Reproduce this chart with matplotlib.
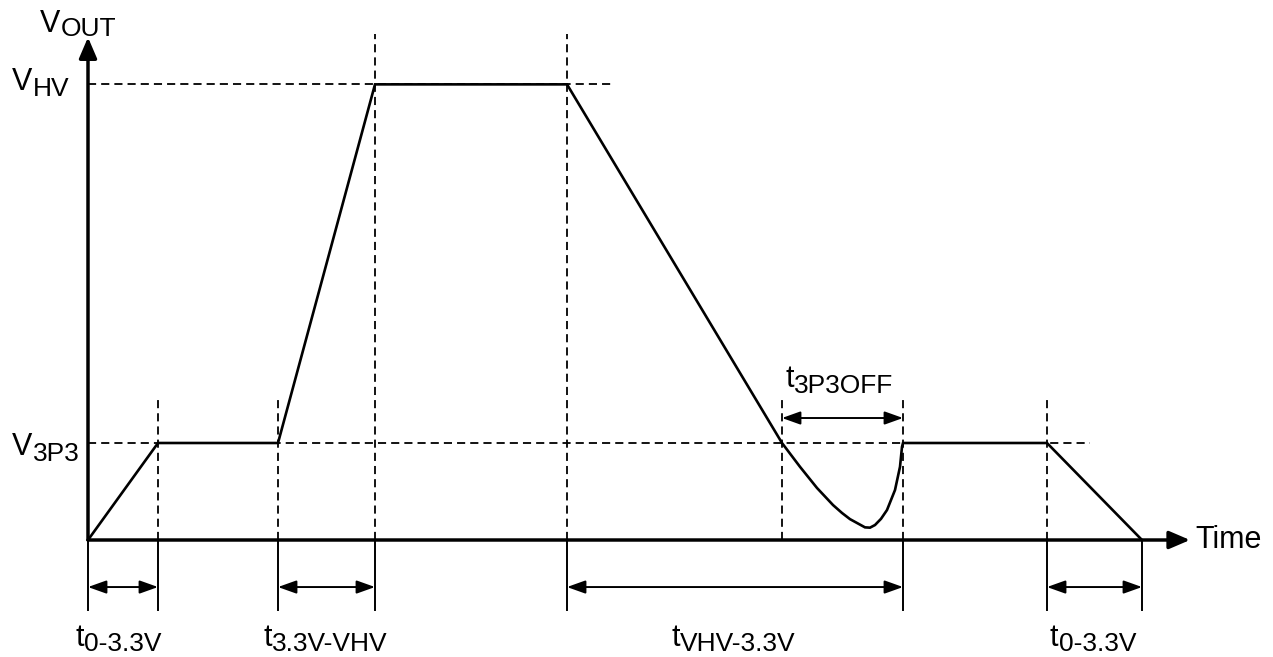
import matplotlib
matplotlib.use("Agg")
import matplotlib.pyplot as plt

plt.rcParams['font.family'] = ['Liberation Sans', 'DejaVu Sans']

# waveform (time in arbitrary units, volts)
t_wave = [0, 7.0, 19.0, 28.7, 47.9, 69.4, 71.2, 72.9, 74.5, 75.4, 76.2, 77.7,
          78.2, 78.7, 79.3, 79.9, 80.7, 81.2, 81.4, 81.5, 95.9, 105.4]
v_wave = [0, 3.3, 3.3, 15.5, 15.5, 3.3, 2.49, 1.77, 1.19, 0.92, 0.71, 0.43,
          0.42, 0.51, 0.72, 1.02, 1.70, 2.49, 3.17, 3.3, 3.3, 0]

V3P3 = 3.3
VHV = 15.5
t_end = 110.2     # time axis arrow tip
v_top = 17.1      # voltage axis arrow tip

# vertical guide lines: (time, top)
guides_t = [7.0, 19.0, 28.7, 47.9, 69.4, 81.5, 95.9]
guides_top = [4.9, 4.9, 17.2, 17.2, 4.9, 4.9, 4.9]
# level guides: (level, end time)
levels = [VHV, V3P3]
levels_end = [52.4, 100.2]

# timing marks below the axis
tick_t = [0, 7.0, 19.0, 28.7, 47.9, 81.5, 95.9, 105.4]
spans = [(0, 7.0), (19.0, 28.7), (47.9, 81.5), (95.9, 105.4)]
span_labels = [('t', '0-3.3V'), ('t', '3.3V-VHV'), ('t', 'VHV-3.3V'), ('t', '0-3.3V')]
span_label_x = [-1.3, 17.5, 58.3, 96.2]
off_span = (69.4, 81.5)

fig = plt.figure(figsize=(12.73, 6.57), dpi=100)
ax = fig.add_axes([0, 0, 1, 1])
ax.set_xlim(-8.8, 118.5)
ax.set_ylim(-3.98, 18.37)
ax.axis('off')

dash = (0, (4.5, 2.8))
for x, top in zip(guides_t, guides_top):
    ax.plot([x, x], [0, top], color='black', lw=1.3, ls=dash)
for lv, end in zip(levels, levels_end):
    ax.plot([0, end], [lv, lv], color='black', lw=1.3, ls=dash)

ax.plot(t_wave, v_wave, color='black', lw=1.9, solid_joinstyle='miter')

# axes with arrows
ax.annotate('', xy=(t_end, 0), xytext=(0, 0),
            arrowprops=dict(arrowstyle='-|>,head_length=0.7,head_width=0.3',
                            color='black', lw=2.5, mutation_scale=18,
                            shrinkA=0, shrinkB=0))
ax.annotate('', xy=(0, v_top), xytext=(0, 0),
            arrowprops=dict(arrowstyle='-|>,head_length=0.7,head_width=0.3',
                            color='black', lw=2.5, mutation_scale=18,
                            shrinkA=0, shrinkB=0))

for x in tick_t:
    ax.plot([x, x], [0, -2.38], color='black', lw=1.4)

arrow_kw = dict(arrowstyle='<|-|>,head_length=0.7,head_width=0.25',
                color='black', lw=1.4, mutation_scale=16, shrinkA=0, shrinkB=0)
for a, b in spans:
    ax.annotate('', xy=(b, -1.6), xytext=(a, -1.6), arrowprops=arrow_kw)
ax.annotate('', xy=(off_span[1], 4.15), xytext=(off_span[0], 4.15),
            arrowprops=arrow_kw)


def sub_label(x, y, main, sub, fs=22, sfs=19, drop=-2.5):
    txt = ax.text(x, y, main, fontsize=fs, ha='left', va='baseline')
    ax.annotate(sub, xy=(1, 0), xycoords=txt, xytext=(0.3, drop),
                textcoords='offset points', fontsize=sfs,
                ha='left', va='bottom')


sub_label(-4.8, 17.28, 'V', 'OUT', drop=-1.5)
sub_label(-7.6, 15.3, 'V', 'HV')
sub_label(-7.6, 2.89, 'V', '3P3')
for (m, s), x in zip(span_labels, span_label_x):
    sub_label(x, -3.6, m, s)
sub_label(69.7, 5.2, 't', '3P3OFF')
ax.text(110.7, 0, 'Time', fontsize=22, ha='left', va='center')

fig.savefig('out.png', dpi=100)
